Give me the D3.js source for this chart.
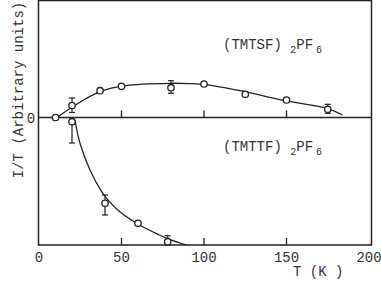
<!DOCTYPE html>
<html><head><meta charset="utf-8">
<script src="https://cdn.jsdelivr.net/npm/d3@7/dist/d3.min.js"></script>
<style>body{margin:0;background:#fff}svg{display:block}text{font-family:"Liberation Mono","DejaVu Sans Mono",monospace;fill:#333}</style>
</head><body><svg id="c" width="381" height="285"></svg>
<script>
// ---- data ----
const xTicks = [0, 50, 100, 150, 200];
const xTickLabels = ["0", "50", "100", "150", "200"];
const yTicks = [0];
const yTickLabels = ["0"];
// (TMTSF)2PF6 measured points
const tsfT = [10, 20, 37, 50, 80, 100, 125, 150, 175];
const tsfV = [0, 1.2, 2.68, 3.12, 2.98, 3.35, 2.32, 1.75, 0.82];
const tsfErrT = [20, 80, 175];
const tsfErrLo = [0.5, 2.42, 0.42];
const tsfErrHi = [1.95, 3.68, 1.32];
// (TMTSF)2PF6 fitted curve
const tsfFitT = [11, 22, 37, 52, 80, 93, 100, 122, 149, 173, 184];
const tsfFitV = [0, 1.25, 2.58, 3.18, 3.42, 3.38, 3.32, 2.68, 1.68, 0.98, 0.25];
// (TMTTF)2PF6 measured points
const ttfT = [20, 40, 60, 78];
const ttfV = [-0.42, -8.58, -10.58, -12.42];
const ttfErrT = [20, 40, 78];
const ttfErrLo = [-2.55, -9.75, -12.75];
const ttfErrHi = [-0.42, -7.75, -11.82];
// (TMTTF)2PF6 fitted curve
const ttfFitT = [21.8, 24.8, 30.9, 38, 41, 49, 61, 73, 79, 89.5];
const ttfFitV = [-0.25, -2.55, -5.25, -7.42, -8.08, -9.42, -10.75, -11.75, -12.18, -12.75];

// ---- layout ----
const svg = d3.select("#c");
const L = 38.5, R = 371.5, T = 0.5, B = 245;
const x = d3.scaleLinear().domain([0, 200]).range([39, 369]);
const y = d3.scaleLinear().domain([-12.75, 11.75]).range([B, 0]);
const ink = "#222";

const defs = svg.append("defs");
defs.append("clipPath").attr("id", "clip").append("rect")
  .attr("x", L).attr("y", T).attr("width", R - L).attr("height", B - T);

// frame
svg.append("rect").attr("x", L).attr("y", T).attr("width", R - L).attr("height", B - T)
  .attr("fill", "none").attr("stroke", ink).attr("stroke-width", 1.5);
// zero line
svg.append("line").attr("x1", L).attr("x2", R).attr("y1", y(0)).attr("y2", y(0))
  .attr("stroke", ink).attr("stroke-width", 1.5);

// ticks (bottom axis and zero line)
const inner = xTicks.filter(t => t > 0 && t < 200);
[B, y(0)].forEach(base => {
  svg.append("g").selectAll("line").data(inner).join("line")
    .attr("x1", d => x(d)).attr("x2", d => x(d))
    .attr("y1", base).attr("y2", base - 7)
    .attr("stroke", ink).attr("stroke-width", 1.3);
});

// x tick labels
svg.append("g").selectAll("text").data(xTicks).join("text")
  .attr("x", d => x(d)).attr("y", 262)
  .attr("text-anchor", "middle").attr("font-size", 14)
  .text((d, i) => xTickLabels[i]);

// y tick label
svg.append("g").selectAll("text").data(yTicks).join("text")
  .attr("x", 31).attr("y", d => y(d) + 5)
  .attr("text-anchor", "middle").attr("font-size", 14)
  .text((d, i) => yTickLabels[i]);

// axis titles
svg.append("text").attr("transform", "translate(23,90) rotate(-90)")
  .attr("text-anchor", "middle").attr("font-size", 14)
  .text("I/T (Arbitrary units)");
svg.append("text").attr("x", 293).attr("y", 276).attr("font-size", 14)
  .attr("xml:space", "preserve").text("T (K )");

// compound labels
function formula(name, x0, yb) {
  const t = svg.append("text").attr("x", x0).attr("y", yb).attr("font-size", 14);
  t.append("tspan").text(name + " ");
  t.append("tspan").attr("font-size", 10).attr("dy", 4).text("2");
  t.append("tspan").attr("dy", -4).text("PF");
  t.append("tspan").attr("font-size", 10).attr("dx", 3).attr("dy", 4).text("6");
}
formula("(TMTSF)", 223, 49);
formula("(TMTTF)", 223, 151);

// fitted curves
const line = d3.line().x(d => x(d[0])).y(d => y(d[1])).curve(d3.curveCatmullRom.alpha(0.5));
const g = svg.append("g").attr("clip-path", "url(#clip)");
g.append("path").datum(tsfFitT.map((t, i) => [t, tsfFitV[i]]))
  .attr("d", line).attr("fill", "none").attr("stroke", ink).attr("stroke-width", 1.3);
g.append("path").datum(ttfFitT.map((t, i) => [t, ttfFitV[i]]))
  .attr("d", line).attr("fill", "none").attr("stroke", ink).attr("stroke-width", 1.3);

// error bars
function errBars(ts, lo, hi) {
  const eg = svg.append("g").attr("stroke", ink).attr("stroke-width", 1.2);
  ts.forEach((t, i) => {
    eg.append("line").attr("x1", x(t)).attr("x2", x(t)).attr("y1", y(lo[i])).attr("y2", y(hi[i]));
    [lo[i], hi[i]].forEach(v => eg.append("line")
      .attr("x1", x(t) - 3).attr("x2", x(t) + 3).attr("y1", y(v)).attr("y2", y(v)));
  });
}
errBars(tsfErrT, tsfErrLo, tsfErrHi);
errBars(ttfErrT, ttfErrLo, ttfErrHi);

// points
function pts(ts, vs) {
  svg.append("g").selectAll("circle").data(ts).join("circle")
    .attr("cx", d => x(d)).attr("cy", (d, i) => y(vs[i])).attr("r", 3.2)
    .attr("fill", "#fff").attr("stroke", ink).attr("stroke-width", 1.3);
}
pts(tsfT, tsfV);
pts(ttfT, ttfV);
</script></body></html>
